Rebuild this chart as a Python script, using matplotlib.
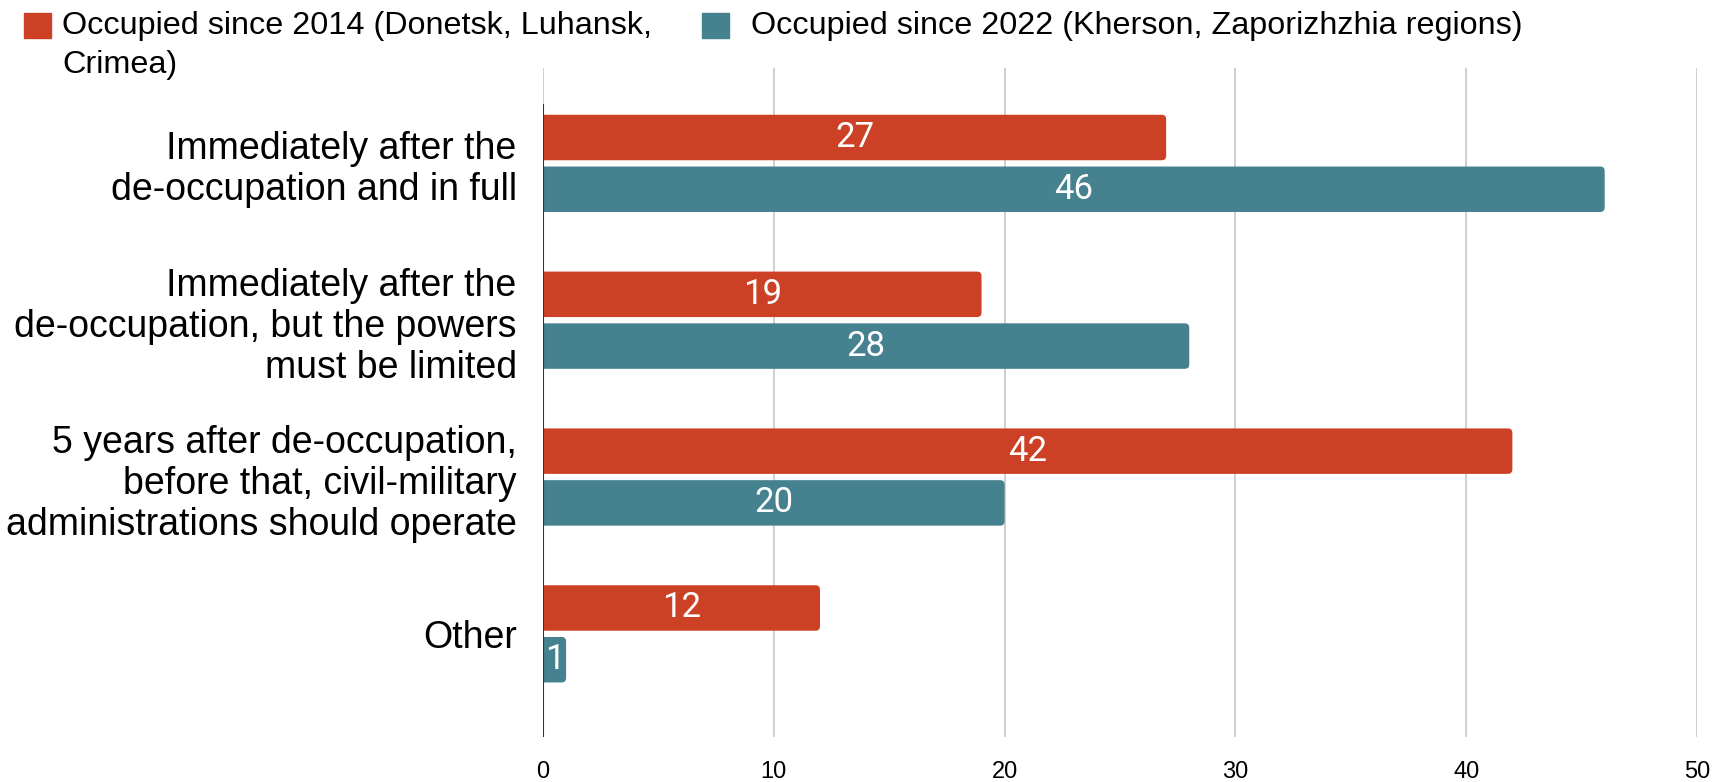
import numpy as np
import matplotlib.pyplot as plt
from matplotlib.patches import Rectangle, FancyBboxPatch

# data
categories = [
    'Immediately after the\nde-occupation and in full',
    'Immediately after the\nde-occupation, but the powers\nmust be limited',
    '5 years after de-occupation,\nbefore that, civil-military\nadministrations should operate',
    'Other',
]
since_2014 = [27, 19, 42, 12]
since_2022 = [46, 28, 20, 1]
series_names = ['Occupied since 2014 (Donetsk, Luhansk,\nCrimea)',
                'Occupied since 2022 (Kherson, Zaporizhzhia regions)']
colors = ['#cc4125', '#45818e']
x_ticks = [0, 10, 20, 30, 40, 50]

fig = plt.figure(figsize=(17.19, 7.82), dpi=100)
ax = fig.add_axes([0.3159, 0.0575, 0.6713, 0.8555])

y = np.arange(len(categories))
h = 0.29
off = 0.165
# pixel size of one data unit, used to keep the corner rounding round
px_x = 0.6713 * 1719 / 50
px_y = 0.8555 * 782 / 4.266
r = 4.5 / px_x

for vals, dy, col in [(since_2014, -off, colors[0]), (since_2022, off, colors[1])]:
    for yc, v in zip(y + dy, vals):
        # start left of zero so the axes clip squares off the left corners
        ax.add_patch(FancyBboxPatch((-3 * r, yc - h / 2), v + 3 * r, h,
                                    boxstyle=f'round,pad=0,rounding_size={r}',
                                    mutation_aspect=px_x / px_y,
                                    color=col, linewidth=0, zorder=3))
        ax.text(v / 2, yc, str(v),
                ha='center', va='center', color='white', fontsize=25,
                family='Roboto', zorder=4)

ax.set_xlim(0, 50)
ax.set_ylim(3.658, -0.608)
ax.set_xticks(x_ticks)
ax.set_xticklabels([str(t) for t in x_ticks], family='Liberation Sans', fontsize=17)
ax.set_yticks(y)
ax.set_yticklabels(categories, family='Liberation Sans', fontsize=27, linespacing=1.18)
ax.tick_params(axis='both', length=0)
ax.tick_params(axis='x', pad=17)
ax.tick_params(axis='y', pad=19)

for s in ax.spines.values():
    s.set_visible(False)
ax.grid(axis='x', color='#cccccc', linewidth=1.3, zorder=0)
ax.vlines(0, -0.379, 3.658, color='#333333', linewidth=1.5, zorder=5)

# legend drawn by hand at the top
W, H = 1719, 782
leg_x = [24, 702]
leg_tx = [62, 751]
for i, (name, col) in enumerate(zip(series_names, colors)):
    fig.patches.append(Rectangle((leg_x[i] / W, 1 - 38 / H), 27 / W, 25 / H,
                                 color=col, transform=fig.transFigure))
    fig.text(leg_tx[i] / W, 1 - 11 / H, name, ha='left', va='top',
             family='Liberation Sans', fontsize=23.3, linespacing=1.4)

fig.savefig('out.png', dpi=100)
